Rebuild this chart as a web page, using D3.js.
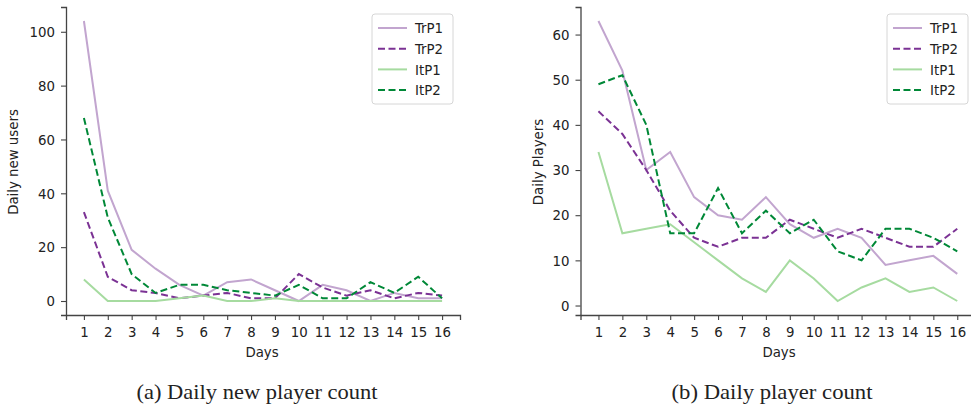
<!DOCTYPE html>
<html>
<head>
<meta charset="utf-8">
<script src="https://cdn.jsdelivr.net/npm/d3@7"></script>
<style>
  body { margin: 0; background: #fff; }
  svg text { font-family: "DejaVu Sans Condensed", "DejaVu Sans", sans-serif; fill: #222; }
  svg text.caption { font-family: "Liberation Serif", "Times New Roman", serif; }
</style>
</head>
<body>
<svg id="fig" width="971" height="410"></svg>
<script>
// x categories
var days = [1, 2, 3, 4, 5, 6, 7, 8, 9, 10, 11, 12, 13, 14, 15, 16];

// (a) daily new users
var newTrP1 = [104, 41, 19, 12, 6, 2, 7, 8, 4, 0, 6, 4, 0, 3, 1, 1];
var newTrP2 = [33, 9, 4, 3, 1, 2, 3, 1, 1, 10, 5, 2, 4, 1, 3, 2];
var newItP1 = [8, 0, 0, 0, 1, 2, 0, 0, 1, 0, 0, 0, 0, 0, 0, 0];
var newItP2 = [68, 31, 10, 3, 6, 6, 4, 3, 2, 6, 1, 1, 7, 3, 9, 1];

// (b) daily players
var plTrP1 = [63, 52, 30, 34, 24, 20, 19, 24, 18, 15, 17, 15, 9, 10, 11, 7];
var plTrP2 = [43, 38, 30, 21, 15, 13, 15, 15, 19, 17, 15, 17, 15, 13, 13, 17];
var plItP1 = [34, 16, 17, 18, 14, 10, 6, 3, 10, 6, 1, 4, 6, 3, 4, 1];
var plItP2 = [49, 51, 40, 16, 16, 26, 16, 21, 16, 19, 12, 10, 17, 17, 15, 12];

var seriesNames = ["TrP1", "TrP2", "ItP1", "ItP2"];
var seriesColors = ["#c2a5cf", "#7b3294", "#a6dba0", "#008837"];
var seriesDash = [null, "7,3.5", null, "7,3.5"];

var fontSize = "14.8px";
var svg = d3.select("#fig");

function drawPanel(opts) {
  var x = d3.scaleLinear().domain([0.25, 16.75]).range([opts.left, opts.left + opts.width]);
  var y = d3.scaleLinear().domain(opts.yDomain).range([315, 7]);
  var g = svg.append("g");

  // axes
  var xAxis = g.append("g")
      .attr("transform", "translate(0,315)")
      .call(d3.axisBottom(x).tickValues(days).tickSize(5).tickPadding(6));
  var yAxis = g.append("g")
      .attr("transform", "translate(" + opts.left + ",0)")
      .call(d3.axisLeft(y).tickValues(opts.yTicks).tickSize(5).tickPadding(6));
  [xAxis, yAxis].forEach(function (a) {
    a.select(".domain").attr("stroke", "#444").attr("stroke-width", 1.3);
    a.selectAll(".tick line").attr("stroke", "#444").attr("stroke-width", 1.1);
    a.selectAll(".tick text").style("font-size", fontSize).attr("fill", "#222");
  });

  // lines
  var line = d3.line()
      .x(function (d, i) { return x(days[i]); })
      .y(function (d) { return y(d); });
  opts.data.forEach(function (vals, i) {
    g.append("path")
        .datum(vals)
        .attr("d", line)
        .attr("fill", "none")
        .attr("stroke", seriesColors[i])
        .attr("stroke-width", 2)
        .attr("stroke-dasharray", seriesDash[i]);
  });

  // axis labels
  g.append("text")
      .attr("x", opts.daysX)
      .attr("y", 357)
      .attr("text-anchor", "middle")
      .style("font-size", fontSize)
      .text("Days");
  g.append("text")
      .attr("transform", "translate(" + (opts.left - opts.yLabelGap) + ",162) rotate(-90)")
      .attr("text-anchor", "middle")
      .attr("dy", "0.35em")
      .style("font-size", fontSize)
      .text(opts.yLabel);

  // legend
  var lg = g.append("g").attr("transform", "translate(" + opts.legendX + ",14)");
  lg.append("rect")
      .attr("width", 81).attr("height", 90)
      .attr("rx", 3)
      .attr("fill", "#fff").attr("fill-opacity", 0.8)
      .attr("stroke", "#d6d6d6");
  seriesNames.forEach(function (name, i) {
    var yy = 14 + i * 20.7;
    lg.append("line")
        .attr("x1", 6).attr("x2", 35)
        .attr("y1", yy).attr("y2", yy)
        .attr("stroke", seriesColors[i])
        .attr("stroke-width", 2)
        .attr("stroke-dasharray", seriesDash[i]);
    lg.append("text")
        .attr("x", 43).attr("y", yy + 5.2)
        .style("font-size", fontSize)
        .text(name);
  });

  // caption
  svg.append("text")
      .attr("class", "caption")
      .attr("x", opts.captionX)
      .attr("y", 399)
      .attr("text-anchor", "middle")
      .attr("textLength", opts.captionLen)
      .attr("lengthAdjust", "spacingAndGlyphs")
      .style("font-size", "21px")
      .text(opts.caption);
}

drawPanel({
  left: 66, width: 394,
  yDomain: [-5.2, 109.2], yTicks: [0, 20, 40, 60, 80, 100],
  data: [newTrP1, newTrP2, newItP1, newItP2],
  yLabel: "Daily new users", yLabelGap: 53,
  daysX: 262,
  legendX: 372,
  caption: "(a) Daily new player count", captionX: 257, captionLen: 241
});

drawPanel({
  left: 580.5, width: 394.7,
  yDomain: [-2.1, 66.1], yTicks: [0, 10, 20, 30, 40, 50, 60],
  data: [plTrP1, plTrP2, plItP1, plItP2],
  yLabel: "Daily Players", yLabelGap: 42.5,
  daysX: 779,
  legendX: 887,
  caption: "(b) Daily player count", captionX: 772, captionLen: 201
});
</script>
</body>
</html>
